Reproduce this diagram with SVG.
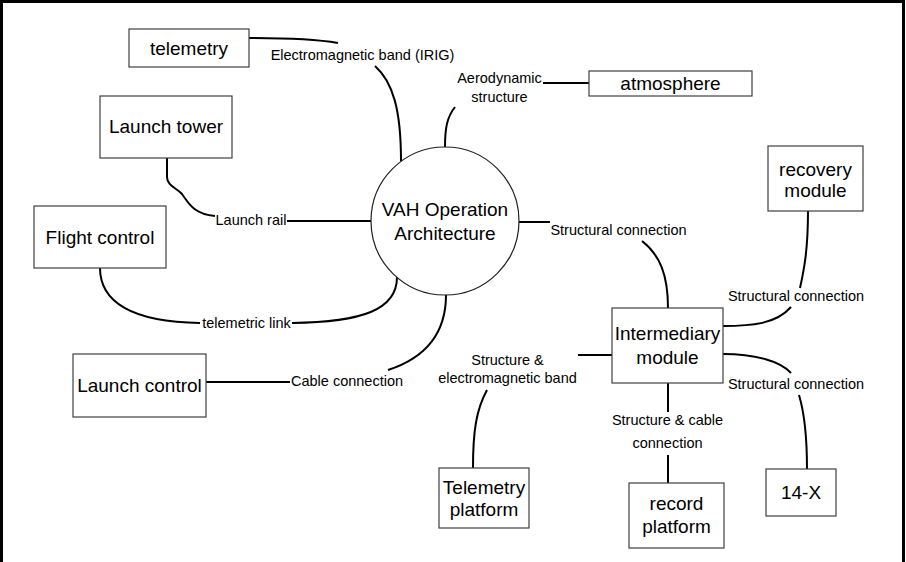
<svg xmlns="http://www.w3.org/2000/svg" width="906" height="562" viewBox="0 0 906 562">
  <style>
    .frame { fill: none; stroke: #000; stroke-width: 3; }
    .box { fill: #fff; stroke: #404040; stroke-width: 1.2; }
    .hub { fill: #fff; stroke: #202020; stroke-width: 1.2; }
    .node-text { font-family: "Liberation Sans", Arial, sans-serif; font-size: 19px; fill: #000; text-anchor: middle; }
    .edge { fill: none; stroke: #000; stroke-width: 2; }
    .edge-label { font-family: "Liberation Sans", Arial, sans-serif; font-size: 14.5px; fill: #000; }
    .mid { text-anchor: middle; }
  </style>
  <rect x="0" y="0" width="906" height="562" fill="#fff"/>
  <rect class="frame" x="1.5" y="1.5" width="902" height="600"/>

  <!-- connectors with their labels -->
  <g id="connectors">
    <!-- telemetry - hub -->
    <path class="edge" d="M249,38 C285,38 315,39 338,43"/>
    <text class="edge-label mid" x="362.5" y="60">Electromagnetic band (IRIG)</text>
    <path class="edge" d="M375,66 C393,82 401,110 401,161"/>

    <!-- atmosphere - hub -->
    <path class="edge" d="M543,83 L589,83"/>
    <text class="edge-label mid" x="499.5" y="83">Aerodynamic</text>
    <text class="edge-label mid" x="499.5" y="101.5">structure</text>
    <path class="edge" d="M455,107 C447,117 445,128 445,147"/>

    <!-- launch tower - hub -->
    <path class="edge" d="M167,158 L167,177 C167,186 177,188 182,194 C188,202 193,214 215,216"/>
    <text class="edge-label" x="215.5" y="225">Launch rail</text>
    <path class="edge" d="M287,221 L371,221"/>

    <!-- flight control - hub -->
    <path class="edge" d="M100,268 C100,302 132,322 200,323"/>
    <text class="edge-label mid" x="246.5" y="328">telemetric link</text>
    <path class="edge" d="M292,323 C362,322 397,310 397,277"/>

    <!-- launch control - hub -->
    <path class="edge" d="M206,382 L290,382"/>
    <text class="edge-label" x="291" y="386">Cable connection</text>
    <path class="edge" d="M388,370 C428,357 446,332 446,295"/>

    <!-- hub - intermediary module -->
    <path class="edge" d="M519,222 L550,222"/>
    <text class="edge-label mid" x="618.5" y="235">Structural connection</text>
    <path class="edge" d="M642,241 C660,255 668,275 668,308"/>

    <!-- recovery module - intermediary module -->
    <path class="edge" d="M808,211 C808,250 804,270 800,288"/>
    <text class="edge-label mid" x="796" y="300.5">Structural connection</text>
    <path class="edge" d="M791,307 C776,324 752,326 723,326"/>

    <!-- intermediary module - telemetry platform -->
    <path class="edge" d="M578,355 L612,355"/>
    <text class="edge-label mid" x="507.5" y="365">Structure &amp;</text>
    <text class="edge-label mid" x="507.5" y="383">electromagnetic band</text>
    <path class="edge" d="M487,390 C476,410 473,432 473,468"/>

    <!-- intermediary module - 14-X -->
    <path class="edge" d="M723,354 C755,354 780,361 791,373"/>
    <text class="edge-label mid" x="796" y="388.5">Structural connection</text>
    <path class="edge" d="M799,395 C805,415 807,440 807,469"/>

    <!-- intermediary module - record platform -->
    <path class="edge" d="M668,383 L668,412"/>
    <text class="edge-label mid" x="667.5" y="425">Structure &amp; cable</text>
    <text class="edge-label mid" x="667.5" y="447.5">connection</text>
    <path class="edge" d="M668,455 L668,483"/>
  </g>

  <g id="hub">
    <circle class="hub" cx="445" cy="221" r="74"/>
    <text class="node-text" x="445" y="216">VAH Operation</text>
    <text class="node-text" x="445" y="240">Architecture</text>
  </g>
  <g id="telemetry">
    <rect class="box" x="129" y="29" width="120" height="38"/>
    <text class="node-text" x="189" y="55">telemetry</text>
  </g>
  <g id="launch-tower">
    <rect class="box" x="100" y="96" width="132" height="62"/>
    <text class="node-text" x="166" y="133">Launch tower</text>
  </g>
  <g id="atmosphere">
    <rect class="box" x="589" y="71" width="163" height="25"/>
    <text class="node-text" x="670.5" y="90">atmosphere</text>
  </g>
  <g id="recovery-module">
    <rect class="box" x="768" y="146" width="95" height="65"/>
    <text class="node-text" x="815.5" y="175.5">recovery</text>
    <text class="node-text" x="815.5" y="196.5">module</text>
  </g>
  <g id="flight-control">
    <rect class="box" x="34" y="206" width="132" height="62"/>
    <text class="node-text" x="100" y="243.5">Flight control</text>
  </g>
  <g id="launch-control">
    <rect class="box" x="73" y="354" width="133" height="63"/>
    <text class="node-text" x="139.5" y="391.5">Launch control</text>
  </g>
  <g id="intermediary-module">
    <rect class="box" x="612" y="308" width="111" height="75"/>
    <text class="node-text" x="667.5" y="340">Intermediary</text>
    <text class="node-text" x="667.5" y="363.5">module</text>
  </g>
  <g id="telemetry-platform">
    <rect class="box" x="439" y="468" width="90" height="60"/>
    <text class="node-text" x="484" y="493.5">Telemetry</text>
    <text class="node-text" x="484" y="516">platform</text>
  </g>
  <g id="record-platform">
    <rect class="box" x="629" y="483" width="95" height="65"/>
    <text class="node-text" x="676.5" y="509.5">record</text>
    <text class="node-text" x="676.5" y="532.5">platform</text>
  </g>
  <g id="fourteen-x">
    <rect class="box" x="766" y="469" width="70" height="47"/>
    <text class="node-text" x="801" y="498.5">14-X</text>
  </g>
</svg>
